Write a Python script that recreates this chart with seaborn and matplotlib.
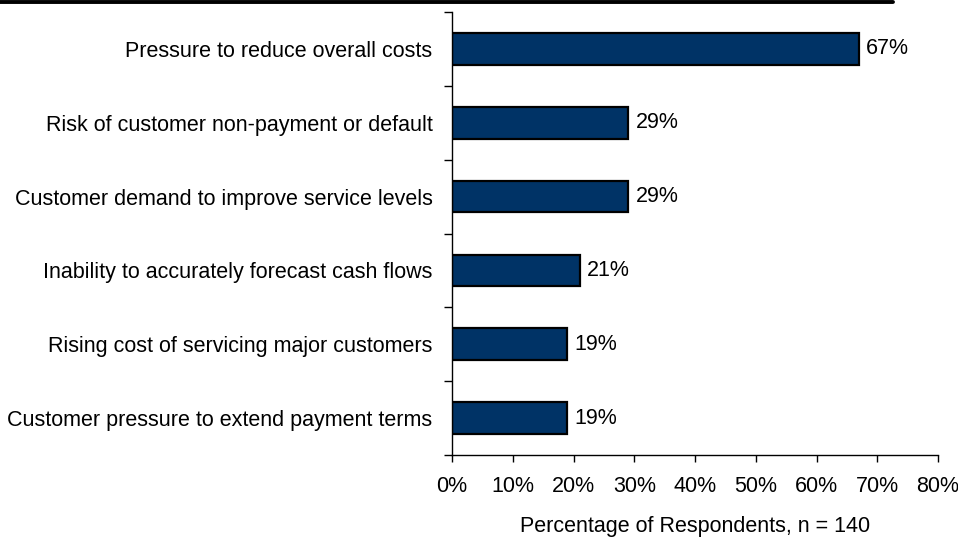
import matplotlib
matplotlib.use("Agg")
import matplotlib.pyplot as plt
import seaborn as sns
import pandas as pd
from matplotlib.ticker import FixedLocator, FuncFormatter

categories = [
    "Pressure to reduce overall costs",
    "Risk of customer non-payment or default",
    "Customer demand to improve service levels",
    "Inability to accurately forecast cash flows",
    "Rising cost of servicing major customers",
    "Customer pressure to extend payment terms",
]
values = [67, 29, 29, 21, 19, 19]
labels = ["67%", "29%", "29%", "21%", "19%", "19%"]

sns.set_theme(style="white")
plt.rcParams['font.family'] = ['Liberation Sans', 'DejaVu Sans']

FS = 15.5
df = pd.DataFrame({"cat": categories, "val": values})
fig = plt.figure(figsize=(9.58, 5.38), dpi=100)
ax = fig.add_axes([452/958, 1 - 455/538, (938 - 452)/958, (455 - 12)/538])

sns.barplot(data=df, y="cat", x="val", orient="h", color="#003366",
            edgecolor="black", linewidth=1.6, width=0.43, ax=ax, saturation=1)

ax.set_xlim(0, 80)
ax.set_ylim(len(categories) - 0.5, -0.5)
ax.set_xticks(range(0, 81, 10))
ax.xaxis.set_major_formatter(FuncFormatter(lambda v, p: f"{int(v)}%"))
ax.tick_params(axis="x", direction="out", length=5, width=1, color="black",
               labelsize=FS, pad=10, bottom=True)
ax.tick_params(axis="y", which="major", length=0, labelsize=FS, pad=14)
ax.yaxis.set_minor_locator(FixedLocator([i - 0.5 for i in range(len(categories) + 1)]))
ax.tick_params(axis="y", which="minor", direction="out", length=6, width=1,
               color="black", left=True)
for lab in ax.get_yticklabels() + ax.get_xticklabels():
    lab.set_color("black")

for s in ["top", "right"]:
    ax.spines[s].set_visible(False)
for s in ["left", "bottom"]:
    ax.spines[s].set_color("black")
    ax.spines[s].set_linewidth(1)

ax.set_ylabel("")
ax.set_xlabel("Percentage of Respondents, n = 140", fontsize=FS, color="black", labelpad=14)

for i, (v, t) in enumerate(zip(values, labels)):
    ax.text(v + 1.2, i, t, va="center", ha="left", fontsize=FS, color="black")

fig.add_artist(plt.Line2D([0, 893/958], [1 - 2/538, 1 - 2/538], color="black",
                          linewidth=2.8, transform=fig.transFigure))

fig.savefig("out.png", dpi=100)
